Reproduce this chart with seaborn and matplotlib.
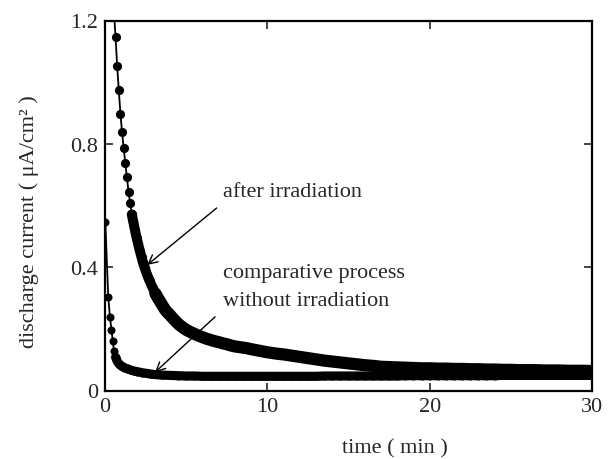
import numpy as np
import pandas as pd
import matplotlib
matplotlib.use("Agg")
import matplotlib.pyplot as plt
import seaborn as sns

# ---- data ----
t_after = [0.5, 0.65, 0.75, 0.85, 0.95, 1.05, 1.15, 1.25, 1.35, 1.45, 1.55, 1.65,
           1.75, 1.85, 1.95, 2.05, 2.15, 2.25, 2.35, 2.45, 2.55, 2.65, 2.75, 2.85,
           2.95, 3.1, 3.25, 3.4, 3.55, 3.7, 3.85, 4.0, 4.2, 4.4, 4.6, 4.8, 5.0,
           5.25, 5.5, 5.75, 6.0, 6.25, 6.5, 6.75, 7.0, 7.25, 7.5, 7.75, 8.0, 8.25,
           8.5, 8.75, 9.0, 9.5, 10.0, 10.5, 11.0, 11.5, 12.0, 12.5, 13.0, 13.5,
           14.0, 14.5, 15.0, 15.5, 16.0, 16.5, 17.0, 17.5, 18.0, 18.5, 19.0, 19.5,
           20.0, 20.5, 21.0, 21.5, 22.0, 22.5, 23.0, 23.5, 24.0, 24.5, 25.0, 25.5,
           26.0, 26.5, 27.0, 27.5, 28.0, 28.5, 29.0, 29.5, 30.0]
i_after = [1.27, 1.146, 1.052, 0.974, 0.898, 0.838, 0.787, 0.737, 0.691, 0.645, 0.607, 0.571,
           0.545, 0.519, 0.495, 0.473, 0.452, 0.432, 0.413, 0.397, 0.382, 0.368, 0.355, 0.343,
           0.332, 0.315, 0.301, 0.288, 0.275, 0.262, 0.253, 0.245, 0.233, 0.222, 0.212, 0.204, 0.197,
           0.190, 0.184, 0.178, 0.173, 0.168, 0.164, 0.160, 0.157, 0.153, 0.150, 0.146, 0.143, 0.141,
           0.139, 0.137, 0.134, 0.129, 0.124, 0.120, 0.117, 0.113, 0.109, 0.105, 0.101, 0.097,
           0.094, 0.091, 0.088, 0.085, 0.082, 0.080, 0.077, 0.076, 0.075, 0.074, 0.073, 0.072,
           0.072, 0.071, 0.071, 0.070, 0.070, 0.069, 0.069, 0.068, 0.068, 0.067, 0.067, 0.066,
           0.066, 0.066, 0.065, 0.065, 0.065, 0.064, 0.064, 0.064, 0.063]

t_comp = [0.02, 0.2, 0.3, 0.4, 0.48, 0.56, 0.65, 0.75, 0.85, 1.0, 1.2, 1.4, 1.6, 1.8,
          2.0, 2.25, 2.5, 2.75, 3.0, 3.5, 4.0, 4.5, 5.0, 5.5, 6.0, 6.5, 7.0, 7.5, 8.0,
          8.5, 9.0, 9.5, 10.0, 10.5, 11.0, 11.5, 12.0, 12.5, 13.0, 13.5, 14.0, 14.5,
          15.0, 15.5, 16.0, 16.5, 17.0, 17.5, 18.0, 18.5, 19.0, 19.5, 20.0, 20.5, 21.0,
          21.5, 22.0, 22.5, 23.0, 23.5, 24.0, 24.5, 25.0, 25.5, 26.0, 26.5, 27.0, 27.5,
          28.0, 28.5, 29.0, 29.5, 30.0]
i_comp = [0.547, 0.303, 0.240, 0.197, 0.159, 0.127, 0.108, 0.095, 0.087, 0.080, 0.074, 0.070, 0.066, 0.063,
          0.061, 0.058, 0.056, 0.054, 0.052, 0.050, 0.049, 0.048, 0.047, 0.047, 0.046, 0.046, 0.046, 0.046, 0.046,
          0.046, 0.046, 0.046, 0.046, 0.046, 0.046, 0.046, 0.046, 0.046, 0.046, 0.047, 0.047, 0.047,
          0.047, 0.047, 0.047, 0.047, 0.047, 0.047, 0.047, 0.048, 0.048, 0.048, 0.048, 0.048, 0.048,
          0.048, 0.048, 0.048, 0.048, 0.048, 0.048, 0.049, 0.049, 0.049, 0.049, 0.049, 0.049, 0.049,
          0.049, 0.049, 0.049, 0.049, 0.049]

x_ticks = [0, 10, 20, 30]
y_ticks = [0, 0.4, 0.8, 1.2]
y_ticklabels = ["0", "0.4", "0.8", "1.2"]

label_after = "after irradiation"
label_comp_1 = "comparative process"
label_comp_2 = "without irradiation"

df_after = pd.DataFrame({"t": t_after, "i": i_after})
df_comp = pd.DataFrame({"t": t_comp, "i": i_comp})

sns.set_theme(style="ticks")
plt.rcParams["font.family"] = ["Liberation Serif", "DejaVu Serif"]

fig = plt.figure(figsize=(6.12, 4.6), dpi=100)
ax = fig.add_axes([105 / 612, 1 - 391.5 / 460, 487 / 612, 370 / 460])

ta = np.array(t_after)
ia = np.array(i_after)
tc = np.array(t_comp)
ic = np.array(i_comp)

# bands where the dense markers merge into a continuous trace
ax.plot(ta[ta >= 1.65], ia[ta >= 1.65], color="black", lw=7.2,
        solid_capstyle="round", solid_joinstyle="round", zorder=2)
ax.plot(ta[ta >= 3.1], ia[ta >= 3.1], color="black", lw=8.8,
        solid_capstyle="round", solid_joinstyle="round", zorder=2)
ax.plot(tc[tc >= 0.65], ic[tc >= 0.65], color="black", lw=6.6,
        solid_capstyle="round", solid_joinstyle="round", zorder=2)

sns.lineplot(data=df_after, x="t", y="i", ax=ax, color="black", lw=1.3,
             marker="o", markersize=6.6, markeredgewidth=0, sort=False,
             estimator=None, zorder=3)
sns.lineplot(data=df_comp, x="t", y="i", ax=ax, color="black", lw=1.3,
             marker="o", markersize=5.8, markeredgewidth=0, sort=False,
             estimator=None, zorder=3)

ax.set_xlim(0, 30)
ax.set_ylim(0, 1.2)
ax.set_xticks(x_ticks)
ax.set_yticks(y_ticks)
ax.set_yticklabels(y_ticklabels)
ax.tick_params(direction="in", length=6, width=1.2, labelsize=16,
               top=True, right=True, pad=5)
for s in ax.spines.values():
    s.set_linewidth(1.6)
    s.set_color("black")

ax.set_xlabel("time ( min )", fontsize=16)
ax.set_ylabel("discharge current ( μA/cm² )", fontsize=16)
ax.xaxis.set_label_coords(0.595, -0.13)
ax.yaxis.set_label_coords(-0.135, 0.46)

ax.text(7.25, 0.647, label_after, fontsize=16, va="center", ha="left")
ax.text(7.25, 0.383, label_comp_1, fontsize=16, va="center", ha="left")
ax.text(7.25, 0.292, label_comp_2, fontsize=16, va="center", ha="left")

arrow = dict(arrowstyle="->", color="black", lw=1.0, mutation_scale=16,
             shrinkA=0, shrinkB=0)
ax.annotate("", xy=(2.6, 0.407), xytext=(6.88, 0.592), arrowprops=arrow, zorder=4)
ax.annotate("", xy=(3.08, 0.059), xytext=(6.78, 0.239), arrowprops=arrow, zorder=4)

fig.savefig("out.png", dpi=100)
